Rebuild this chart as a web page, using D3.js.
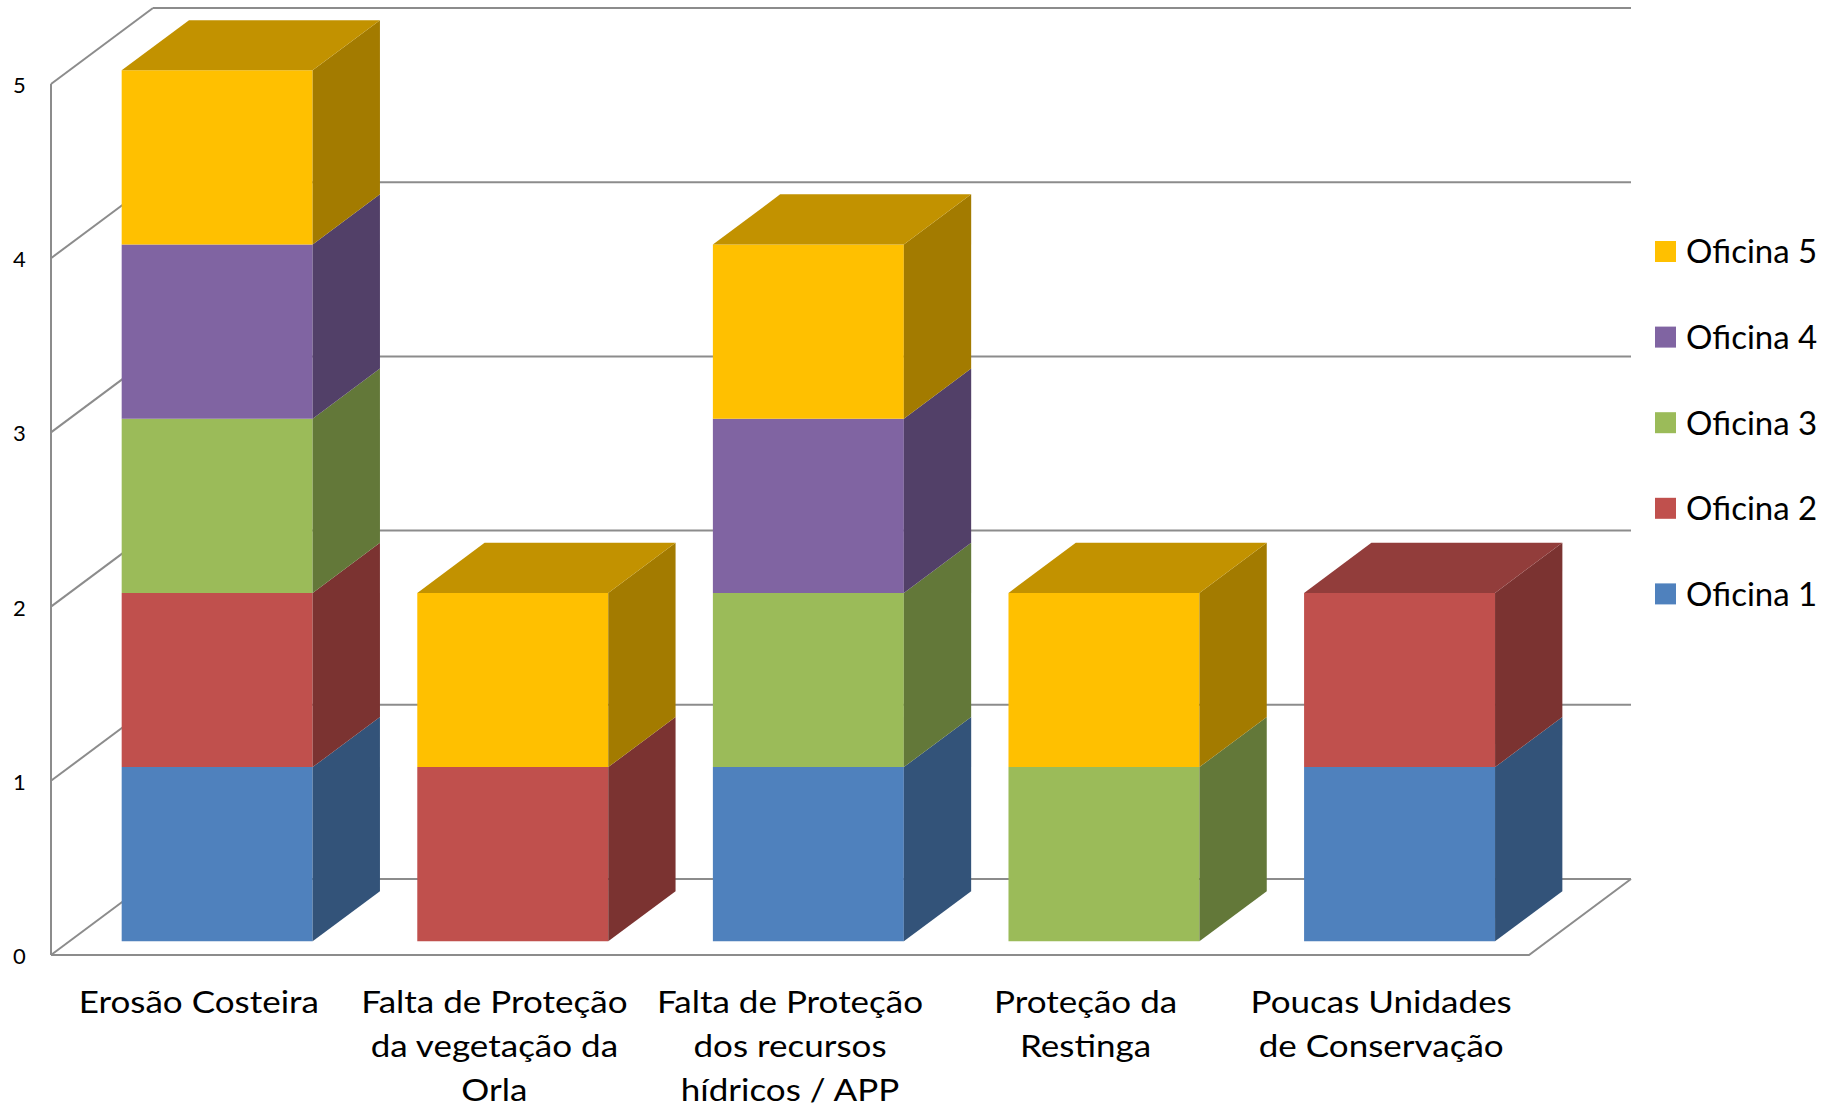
<!DOCTYPE html>
<html>
<head>
<meta charset="utf-8">
<script src="https://cdn.jsdelivr.net/npm/d3@7"></script>
<style>
  html, body { margin: 0; padding: 0; background: #fff; }
  svg { display: block; font-family: Lato, "Open Sans", sans-serif; }
</style>
</head>
<body>
<svg id="chart" width="1836" height="1109"></svg>
<script>
// Categories (wrapped label lines) and series counts per category
const categories = [
  ["Erosão Costeira"],
  ["Falta de Proteção", "da vegetação da", "Orla"],
  ["Falta de Proteção", "dos recursos", "hídricos / APP"],
  ["Proteção da", "Restinga"],
  ["Poucas Unidades", "de Conservação"]
];
const seriesNames = ["Oficina 1", "Oficina 2", "Oficina 3", "Oficina 4", "Oficina 5"];
const oficina1 = [1, 0, 1, 0, 1];
const oficina2 = [1, 1, 0, 0, 1];
const oficina3 = [1, 0, 1, 1, 0];
const oficina4 = [1, 0, 1, 0, 0];
const oficina5 = [1, 1, 1, 1, 0];
const seriesColors = ["#4F81BD", "#C0504D", "#9BBB59", "#8064A2", "#FFC000"];
const yTicks = [0, 1, 2, 3, 4, 5];

const svg = d3.select("#chart");

// Oblique 3D projection: front plane + depth offset
const front = { left: 51, right: 1529, bottom: 955, top: 84 };
const depth = { dx: 102, dy: -76 };
const barDepth = [0.18, 0.84];   // bar front/back as fraction of floor depth

const x = d3.scaleBand()
  .domain(d3.range(categories.length))
  .range([front.left, front.right])
  .paddingInner(0.354)
  .paddingOuter(0.177);
const y = d3.scaleLinear().domain([0, 5]).range([front.bottom, front.top]);

const P = (px, v, z) => [px + z * depth.dx, y(v) + z * depth.dy];
const poly = pts => "M" + pts.map(p => p.join(",")).join("L") + "Z";

const gridColor = "#8C8C8C";
const walls = svg.append("g")
  .attr("fill", "none").attr("stroke", gridColor).attr("stroke-width", 2);

// back wall gridlines
yTicks.forEach(t => {
  const a = P(front.left, t, 1), b = P(front.right, t, 1);
  walls.append("line").attr("x1", a[0]).attr("y1", a[1]).attr("x2", b[0]).attr("y2", b[1]);
});
// side wall gridlines
yTicks.forEach(t => {
  const a = P(front.left, t, 0), b = P(front.left, t, 1);
  walls.append("line").attr("x1", a[0]).attr("y1", a[1]).attr("x2", b[0]).attr("y2", b[1]);
});
// left vertical axis edge
walls.append("line")
  .attr("x1", front.left).attr("y1", y(0)).attr("x2", front.left).attr("y2", y(5));
// floor front edge and right edge
{
  const a = P(front.left, 0, 0), b = P(front.right, 0, 0), c = P(front.right, 0, 1);
  walls.append("path").attr("d", "M" + a + "L" + b + "L" + c);
}

// value axis labels
svg.append("g").selectAll("text").data(yTicks).join("text")
  .attr("x", 19.5).attr("y", d => y(d) + 1)
  .attr("dy", "0.36em")
  .attr("text-anchor", "middle")
  .attr("font-size", 22)
  .attr("fill", "#000")
  .text(d => d);

// stacked 3D bars
const shade = (c, k) => {
  const r = d3.rgb(c);
  return d3.rgb(r.r * k, r.g * k, r.b * k).formatHex();
};
const values = [oficina1, oficina2, oficina3, oficina4, oficina5];
const bars = svg.append("g");
categories.forEach((cat, i) => {
  const x0 = x(i), x1 = x(i) + x.bandwidth();
  const [z0, z1] = barDepth;
  let base = 0;
  const segs = [];
  values.forEach((vals, s) => {
    if (vals[i] > 0) { segs.push({ s, lo: base, hi: base + vals[i] }); base += vals[i]; }
  });
  segs.forEach((seg, k) => {
    const col = seriesColors[seg.s];
    const g = bars.append("g");
    // front face
    g.append("path").attr("fill", col)
      .attr("d", poly([P(x0, seg.lo, z0), P(x1, seg.lo, z0), P(x1, seg.hi, z0), P(x0, seg.hi, z0)]));
    // right side face
    g.append("path").attr("fill", shade(col, 0.64))
      .attr("d", poly([P(x1, seg.lo, z0), P(x1, seg.lo, z1), P(x1, seg.hi, z1), P(x1, seg.hi, z0)]));
    // top face on the highest segment only
    if (k === segs.length - 1) {
      g.append("path").attr("fill", shade(col, 0.76))
        .attr("d", poly([P(x0, seg.hi, z0), P(x1, seg.hi, z0), P(x1, seg.hi, z1), P(x0, seg.hi, z1)]));
    }
  });
});

// category labels (slightly widened face)
const catG = svg.append("g").attr("font-size", 31).attr("fill", "#000").attr("text-anchor", "middle");
categories.forEach((lines, i) => {
  const cx = x(i) + x.bandwidth() / 2;
  const t = catG.append("text").attr("transform", `translate(${cx},0) scale(1.13,1)`);
  lines.forEach((ln, j) => {
    t.append("tspan").attr("x", 0).attr("y", 1013 + j * 44).text(ln);
  });
});

// legend (Oficina 5 at top)
const legend = svg.append("g");
const legendItems = d3.range(seriesNames.length).reverse();
legendItems.forEach((s, j) => {
  const cy = 251.5 + j * 85.6;
  legend.append("rect").attr("x", 1655).attr("y", cy - 10.5).attr("width", 21).attr("height", 21)
    .attr("fill", seriesColors[s]);
  legend.append("text").attr("x", 1686).attr("y", cy).attr("dy", "0.36em")
    .attr("font-size", 33).attr("fill", "#000").text(seriesNames[s]);
});
</script>
</body>
</html>
